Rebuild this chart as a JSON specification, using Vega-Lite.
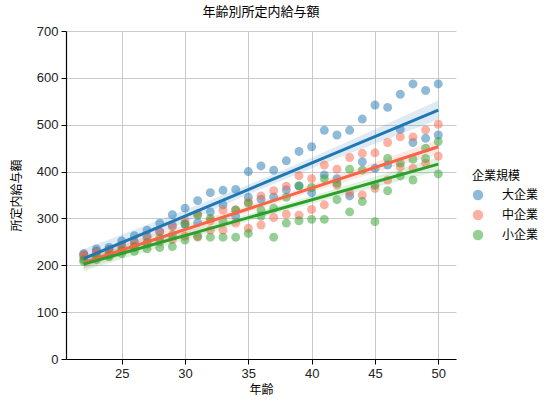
{
  "$schema": "https://vega.github.io/schema/vega-lite/v6.json",
  "autosize": {"type": "none"},
  "padding": {"left": 66, "top": 31, "right": 100, "bottom": 52},
  "width": 390,
  "height": 328,
  "title": {
    "text": "年齢別所定内給与額",
    "font": "Noto Sans CJK JP",
    "fontSize": 13,
    "fontWeight": "normal",
    "color": "#000000",
    "offset": 6
  },
  "datasets": {
    "salary": [
      {"age": 22, "size": "大企業", "pay": 225}, {"age": 22, "size": "大企業", "pay": 222},
      {"age": 23, "size": "大企業", "pay": 235}, {"age": 23, "size": "大企業", "pay": 230},
      {"age": 24, "size": "大企業", "pay": 238}, {"age": 24, "size": "大企業", "pay": 234},
      {"age": 25, "size": "大企業", "pay": 252}, {"age": 25, "size": "大企業", "pay": 243},
      {"age": 26, "size": "大企業", "pay": 263}, {"age": 26, "size": "大企業", "pay": 250},
      {"age": 27, "size": "大企業", "pay": 275}, {"age": 27, "size": "大企業", "pay": 262},
      {"age": 28, "size": "大企業", "pay": 290}, {"age": 28, "size": "大企業", "pay": 272},
      {"age": 29, "size": "大企業", "pay": 308}, {"age": 29, "size": "大企業", "pay": 285},
      {"age": 30, "size": "大企業", "pay": 322}, {"age": 30, "size": "大企業", "pay": 288},
      {"age": 31, "size": "大企業", "pay": 338}, {"age": 31, "size": "大企業", "pay": 291},
      {"age": 32, "size": "大企業", "pay": 355}, {"age": 32, "size": "大企業", "pay": 314},
      {"age": 33, "size": "大企業", "pay": 360}, {"age": 33, "size": "大企業", "pay": 329},
      {"age": 34, "size": "大企業", "pay": 362}, {"age": 34, "size": "大企業", "pay": 305},
      {"age": 35, "size": "大企業", "pay": 400}, {"age": 35, "size": "大企業", "pay": 345},
      {"age": 36, "size": "大企業", "pay": 412}, {"age": 36, "size": "大企業", "pay": 341},
      {"age": 37, "size": "大企業", "pay": 403}, {"age": 37, "size": "大企業", "pay": 346},
      {"age": 38, "size": "大企業", "pay": 423}, {"age": 38, "size": "大企業", "pay": 361},
      {"age": 39, "size": "大企業", "pay": 443}, {"age": 39, "size": "大企業", "pay": 370},
      {"age": 40, "size": "大企業", "pay": 453}, {"age": 40, "size": "大企業", "pay": 355},
      {"age": 41, "size": "大企業", "pay": 488}, {"age": 41, "size": "大企業", "pay": 393},
      {"age": 42, "size": "大企業", "pay": 478}, {"age": 42, "size": "大企業", "pay": 385},
      {"age": 43, "size": "大企業", "pay": 488}, {"age": 43, "size": "大企業", "pay": 348},
      {"age": 44, "size": "大企業", "pay": 512}, {"age": 44, "size": "大企業", "pay": 421},
      {"age": 45, "size": "大企業", "pay": 542}, {"age": 45, "size": "大企業", "pay": 407},
      {"age": 46, "size": "大企業", "pay": 537}, {"age": 46, "size": "大企業", "pay": 414},
      {"age": 47, "size": "大企業", "pay": 565}, {"age": 47, "size": "大企業", "pay": 490},
      {"age": 48, "size": "大企業", "pay": 587}, {"age": 48, "size": "大企業", "pay": 462},
      {"age": 49, "size": "大企業", "pay": 573}, {"age": 49, "size": "大企業", "pay": 471},
      {"age": 50, "size": "大企業", "pay": 587}, {"age": 50, "size": "大企業", "pay": 478},
      {"age": 22, "size": "中企業", "pay": 222}, {"age": 22, "size": "中企業", "pay": 218},
      {"age": 23, "size": "中企業", "pay": 228}, {"age": 23, "size": "中企業", "pay": 222},
      {"age": 24, "size": "中企業", "pay": 232}, {"age": 24, "size": "中企業", "pay": 226},
      {"age": 25, "size": "中企業", "pay": 240}, {"age": 25, "size": "中企業", "pay": 232},
      {"age": 26, "size": "中企業", "pay": 248}, {"age": 26, "size": "中企業", "pay": 238},
      {"age": 27, "size": "中企業", "pay": 258}, {"age": 27, "size": "中企業", "pay": 245},
      {"age": 28, "size": "中企業", "pay": 272}, {"age": 28, "size": "中企業", "pay": 250},
      {"age": 29, "size": "中企業", "pay": 282}, {"age": 29, "size": "中企業", "pay": 255},
      {"age": 30, "size": "中企業", "pay": 295}, {"age": 30, "size": "中企業", "pay": 262},
      {"age": 31, "size": "中企業", "pay": 310}, {"age": 31, "size": "中企業", "pay": 260},
      {"age": 32, "size": "中企業", "pay": 295}, {"age": 32, "size": "中企業", "pay": 275},
      {"age": 33, "size": "中企業", "pay": 318}, {"age": 33, "size": "中企業", "pay": 275},
      {"age": 34, "size": "中企業", "pay": 318}, {"age": 34, "size": "中企業", "pay": 290},
      {"age": 35, "size": "中企業", "pay": 335}, {"age": 35, "size": "中企業", "pay": 279},
      {"age": 36, "size": "中企業", "pay": 348}, {"age": 36, "size": "中企業", "pay": 286},
      {"age": 37, "size": "中企業", "pay": 359}, {"age": 37, "size": "中企業", "pay": 302},
      {"age": 38, "size": "中企業", "pay": 369}, {"age": 38, "size": "中企業", "pay": 309},
      {"age": 39, "size": "中企業", "pay": 391}, {"age": 39, "size": "中企業", "pay": 307},
      {"age": 40, "size": "中企業", "pay": 385}, {"age": 40, "size": "中企業", "pay": 319},
      {"age": 41, "size": "中企業", "pay": 414}, {"age": 41, "size": "中企業", "pay": 329},
      {"age": 42, "size": "中企業", "pay": 405}, {"age": 42, "size": "中企業", "pay": 371},
      {"age": 43, "size": "中企業", "pay": 430}, {"age": 43, "size": "中企業", "pay": 355},
      {"age": 44, "size": "中企業", "pay": 439}, {"age": 44, "size": "中企業", "pay": 350},
      {"age": 45, "size": "中企業", "pay": 440}, {"age": 45, "size": "中企業", "pay": 364},
      {"age": 46, "size": "中企業", "pay": 462}, {"age": 46, "size": "中企業", "pay": 382},
      {"age": 47, "size": "中企業", "pay": 474}, {"age": 47, "size": "中企業", "pay": 410},
      {"age": 48, "size": "中企業", "pay": 474}, {"age": 48, "size": "中企業", "pay": 407},
      {"age": 49, "size": "中企業", "pay": 489}, {"age": 49, "size": "中企業", "pay": 418},
      {"age": 50, "size": "中企業", "pay": 501}, {"age": 50, "size": "中企業", "pay": 433},
      {"age": 22, "size": "小企業", "pay": 212}, {"age": 22, "size": "小企業", "pay": 208},
      {"age": 23, "size": "小企業", "pay": 218}, {"age": 23, "size": "小企業", "pay": 212},
      {"age": 24, "size": "小企業", "pay": 222}, {"age": 24, "size": "小企業", "pay": 218},
      {"age": 25, "size": "小企業", "pay": 232}, {"age": 25, "size": "小企業", "pay": 225},
      {"age": 26, "size": "小企業", "pay": 240}, {"age": 26, "size": "小企業", "pay": 230},
      {"age": 27, "size": "小企業", "pay": 248}, {"age": 27, "size": "小企業", "pay": 235},
      {"age": 28, "size": "小企業", "pay": 258}, {"age": 28, "size": "小企業", "pay": 238},
      {"age": 29, "size": "小企業", "pay": 265}, {"age": 29, "size": "小企業", "pay": 240},
      {"age": 30, "size": "小企業", "pay": 288}, {"age": 30, "size": "小企業", "pay": 254},
      {"age": 31, "size": "小企業", "pay": 307}, {"age": 31, "size": "小企業", "pay": 262},
      {"age": 32, "size": "小企業", "pay": 300}, {"age": 32, "size": "小企業", "pay": 260},
      {"age": 33, "size": "小企業", "pay": 294}, {"age": 33, "size": "小企業", "pay": 260},
      {"age": 34, "size": "小企業", "pay": 318}, {"age": 34, "size": "小企業", "pay": 260},
      {"age": 35, "size": "小企業", "pay": 332}, {"age": 35, "size": "小企業", "pay": 268},
      {"age": 36, "size": "小企業", "pay": 318}, {"age": 36, "size": "小企業", "pay": 305},
      {"age": 37, "size": "小企業", "pay": 322}, {"age": 37, "size": "小企業", "pay": 260},
      {"age": 38, "size": "小企業", "pay": 345}, {"age": 38, "size": "小企業", "pay": 290},
      {"age": 39, "size": "小企業", "pay": 369}, {"age": 39, "size": "小企業", "pay": 295},
      {"age": 40, "size": "小企業", "pay": 366}, {"age": 40, "size": "小企業", "pay": 298},
      {"age": 41, "size": "小企業", "pay": 385}, {"age": 41, "size": "小企業", "pay": 298},
      {"age": 42, "size": "小企業", "pay": 375}, {"age": 42, "size": "小企業", "pay": 340},
      {"age": 43, "size": "小企業", "pay": 405}, {"age": 43, "size": "小企業", "pay": 314},
      {"age": 44, "size": "小企業", "pay": 403}, {"age": 44, "size": "小企業", "pay": 336},
      {"age": 45, "size": "小企業", "pay": 371}, {"age": 45, "size": "小企業", "pay": 293},
      {"age": 46, "size": "小企業", "pay": 428}, {"age": 46, "size": "小企業", "pay": 359},
      {"age": 47, "size": "小企業", "pay": 418}, {"age": 47, "size": "小企業", "pay": 391},
      {"age": 48, "size": "小企業", "pay": 426}, {"age": 48, "size": "小企業", "pay": 382},
      {"age": 49, "size": "小企業", "pay": 450}, {"age": 49, "size": "小企業", "pay": 428},
      {"age": 50, "size": "小企業", "pay": 464}, {"age": 50, "size": "小企業", "pay": 395}
    ]
  },
  "data": {"name": "salary"},
  "encoding": {
    "x": {
      "field": "age",
      "type": "quantitative",
      "title": "年齢",
      "scale": {"domain": [20.6, 51.4], "nice": false, "zero": false},
      "axis": {"values": [25, 30, 35, 40, 45, 50]}
    },
    "color": {
      "field": "size",
      "type": "nominal",
      "title": "企業規模",
      "scale": {
        "domain": ["大企業", "中企業", "小企業"],
        "range": ["#1f77b4", "#fa6447", "#2ca02c"]
      }
    }
  },
  "layer": [
    {
      "transform": [
        {"calculate": "datum.age * datum.age", "as": "xx"},
        {"calculate": "datum.age * datum.pay", "as": "xy"},
        {"calculate": "datum.pay * datum.pay", "as": "yy"},
        {
          "joinaggregate": [
            {"op": "count", "as": "n"},
            {"op": "mean", "field": "age", "as": "mx"},
            {"op": "mean", "field": "pay", "as": "my"},
            {"op": "sum", "field": "xx", "as": "sxx0"},
            {"op": "sum", "field": "xy", "as": "sxy0"},
            {"op": "sum", "field": "yy", "as": "syy0"}
          ],
          "groupby": ["size"]
        },
        {"calculate": "datum.sxx0 - datum.n * datum.mx * datum.mx", "as": "sxx"},
        {"calculate": "datum.sxy0 - datum.n * datum.mx * datum.my", "as": "sxy"},
        {"calculate": "datum.syy0 - datum.n * datum.my * datum.my", "as": "syy"},
        {"calculate": "datum.sxy / datum.sxx", "as": "b"},
        {"calculate": "datum.my + datum.b * (datum.age - datum.mx)", "as": "fit"},
        {"calculate": "sqrt((datum.syy - datum.b * datum.sxy) / (datum.n - 2))", "as": "s"},
        {"calculate": "2 * datum.s * sqrt(1 / datum.n + (datum.age - datum.mx) * (datum.age - datum.mx) / datum.sxx)", "as": "half"},
        {"calculate": "datum.fit - datum.half", "as": "lo"},
        {"calculate": "datum.fit + datum.half", "as": "hi"}
      ],
      "mark": {"type": "area", "opacity": 0.15},
      "encoding": {
        "y": {"field": "lo", "type": "quantitative"},
        "y2": {"field": "hi"}
      }
    },
    {
      "mark": {"type": "circle", "size": 80, "opacity": 0.5},
      "encoding": {
        "y": {
          "field": "pay",
          "type": "quantitative",
          "title": "所定内給与額",
          "scale": {"domain": [0, 700], "nice": false},
          "axis": {"values": [0, 100, 200, 300, 400, 500, 600, 700]}
        }
      }
    },
    {
      "transform": [
        {"regression": "pay", "on": "age", "groupby": ["size"], "method": "linear"}
      ],
      "mark": {"type": "line", "strokeWidth": 3},
      "encoding": {
        "y": {"field": "pay", "type": "quantitative"}
      }
    }
  ],
  "config": {
    "view": {"stroke": null},
    "axis": {
      "labelFont": "Liberation Sans",
      "labelFontSize": 13,
      "labelColor": "#222222",
      "titleFont": "Noto Sans CJK JP",
      "titleFontSize": 12,
      "titleFontWeight": "normal",
      "titleColor": "#000000",
      "domainColor": "#000000",
      "domainWidth": 1.2,
      "tickColor": "#000000",
      "tickSize": 5,
      "gridColor": "#c4c4c4",
      "gridWidth": 0.9,
      "labelPadding": 3
    },
    "axisX": {"titlePadding": 4},
    "axisY": {"titlePadding": 13},
    "legend": {
      "orient": "none",
      "legendX": 406,
      "legendY": 140,
      "titleFont": "Noto Sans CJK JP",
      "titleFontSize": 12,
      "titleFontWeight": "normal",
      "titleColor": "#000000",
      "labelFont": "Noto Sans CJK JP",
      "labelFontSize": 12,
      "labelColor": "#000000",
      "labelOffset": 18,
      "symbolType": "circle",
      "symbolSize": 80,
      "symbolOpacity": 0.5,
      "rowPadding": 4,
      "titlePadding": 6
    }
  }
}
